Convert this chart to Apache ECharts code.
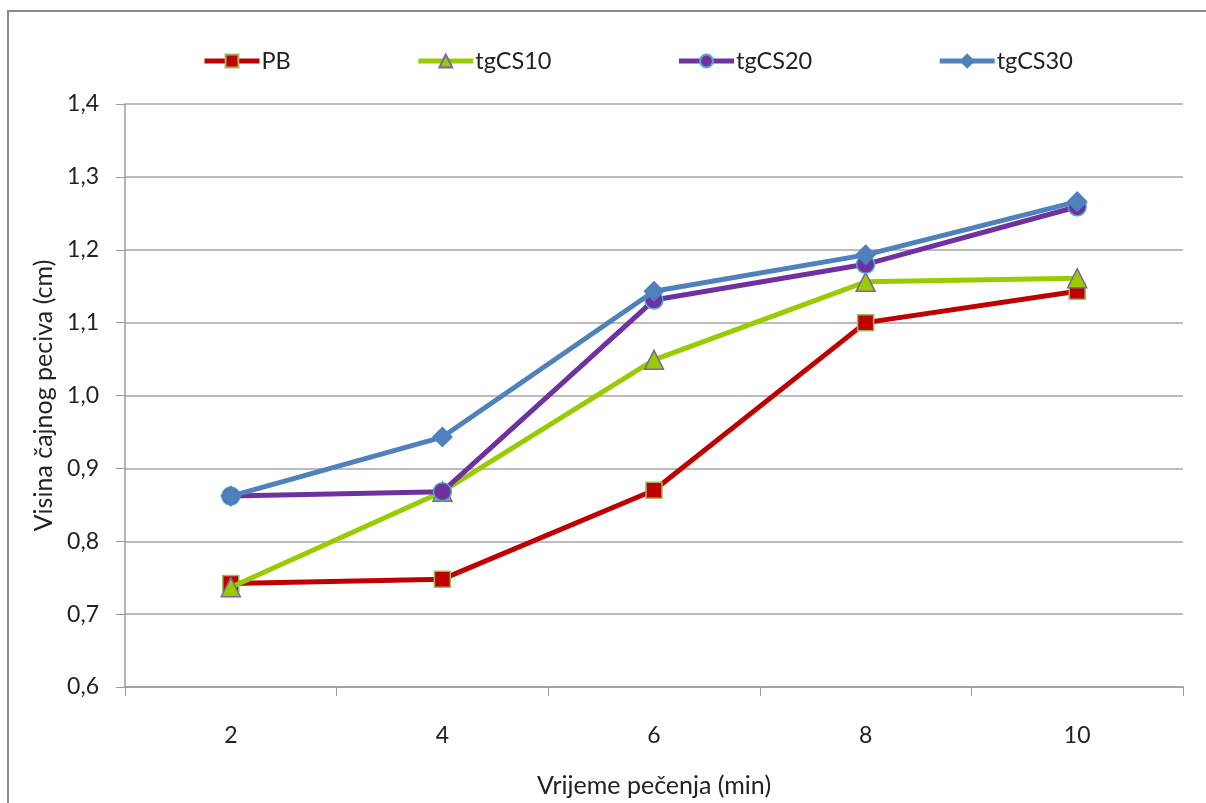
<!DOCTYPE html>
<html>
<head>
<meta charset="utf-8">
<script src="https://cdn.jsdelivr.net/npm/echarts@6/dist/echarts.min.js"></script>
<style>
html,body{margin:0;padding:0;background:#fff;}
#chart{width:1206px;height:803px;}
</style>
</head>
<body>
<div id="chart"></div>
<script>
var categories = ['2', '4', '6', '8', '10'];
var seriesNames = ['PB', 'tgCS10', 'tgCS20', 'tgCS30'];
var PB = [0.742, 0.748, 0.870, 1.100, 1.143];
var tgCS10 = [0.737, 0.868, 1.049, 1.156, 1.161];
var tgCS20 = [0.862, 0.868, 1.131, 1.180, 1.259];
var tgCS30 = [0.862, 0.943, 1.143, 1.193, 1.266];
var yTickMin = 0.6, yTickMax = 1.4, yTickStep = 0.1;
var xAxisTitle = 'Vrijeme pečenja (min)';
var yAxisTitle = 'Visina čajnog peciva (cm)';

var FONT = 'Lato';
var styles = [
  {color: '#C00000', symbol: 'rect', size: 16, border: '#9BBB59'},
  {color: '#99CC00', symbol: 'triangle', size: 19, border: '#8064A2'},
  {color: '#7030A0', symbol: 'circle', size: 18, border: '#4BACC6'},
  {color: '#4F81BD', symbol: 'diamond', size: 19, border: '#4F81BD'}
];
var values = [PB, tgCS10, tgCS20, tgCS30];

var chart = echarts.init(document.getElementById('chart'), null, {renderer: 'canvas'});
chart.setOption({
  backgroundColor: '#ffffff',
  animation: false,
  graphic: [{
    type: 'rect',
    shape: {x: 8, y: 11, width: 1220, height: 820},
    style: {fill: 'none', stroke: '#8a8a8a', lineWidth: 2},
    silent: true
  }],
  legend: {
    left: 202, top: 49, padding: 0,
    itemWidth: 55, itemHeight: 16, itemGap: 125,
    lineStyle: {width: 5},
    textStyle: {fontFamily: FONT, fontSize: 23.5, color: '#222', padding: [0, 0, 0, -3]},
    data: seriesNames
  },
  grid: {left: 125, right: 23, top: 104, bottom: 108},
  xAxis: {
    type: 'category',
    data: categories,
    boundaryGap: true,
    axisLine: {lineStyle: {color: '#9a9a9a', width: 1.5}},
    axisTick: {show: true, length: 9, lineStyle: {color: '#9a9a9a'}},
    axisLabel: {fontFamily: FONT, fontSize: 23, color: '#222', margin: 37},
    name: xAxisTitle,
    nameLocation: 'middle',
    nameGap: 86,
    nameTextStyle: {fontFamily: FONT, fontSize: 25, color: '#222'}
  },
  yAxis: {
    type: 'value',
    min: yTickMin, max: yTickMax, interval: yTickStep,
    axisLine: {show: true, lineStyle: {color: '#9a9a9a', width: 1.5}},
    axisTick: {show: true, length: 9, lineStyle: {color: '#9a9a9a'}},
    splitLine: {lineStyle: {color: '#a6a6a6', width: 1.5}},
    axisLabel: {
      fontFamily: FONT, fontSize: 23, color: '#222', margin: 26,
      formatter: function (v) { return v.toFixed(1).replace('.', ','); }
    },
    name: yAxisTitle,
    nameLocation: 'middle',
    nameGap: 68,
    nameRotate: 90,
    nameTextStyle: {fontFamily: FONT, fontSize: 25, color: '#222'}
  },
  series: seriesNames.map(function (n, i) {
    var s = styles[i];
    return {
      name: n,
      type: 'line',
      data: values[i],
      symbol: s.symbol,
      symbolSize: s.size,
      showAllSymbol: true,
      lineStyle: {color: s.color, width: 5},
      itemStyle: {color: s.color, borderColor: s.border, borderWidth: 1.5},
      z: 2 + i
    };
  })
});
</script>
</body>
</html>
